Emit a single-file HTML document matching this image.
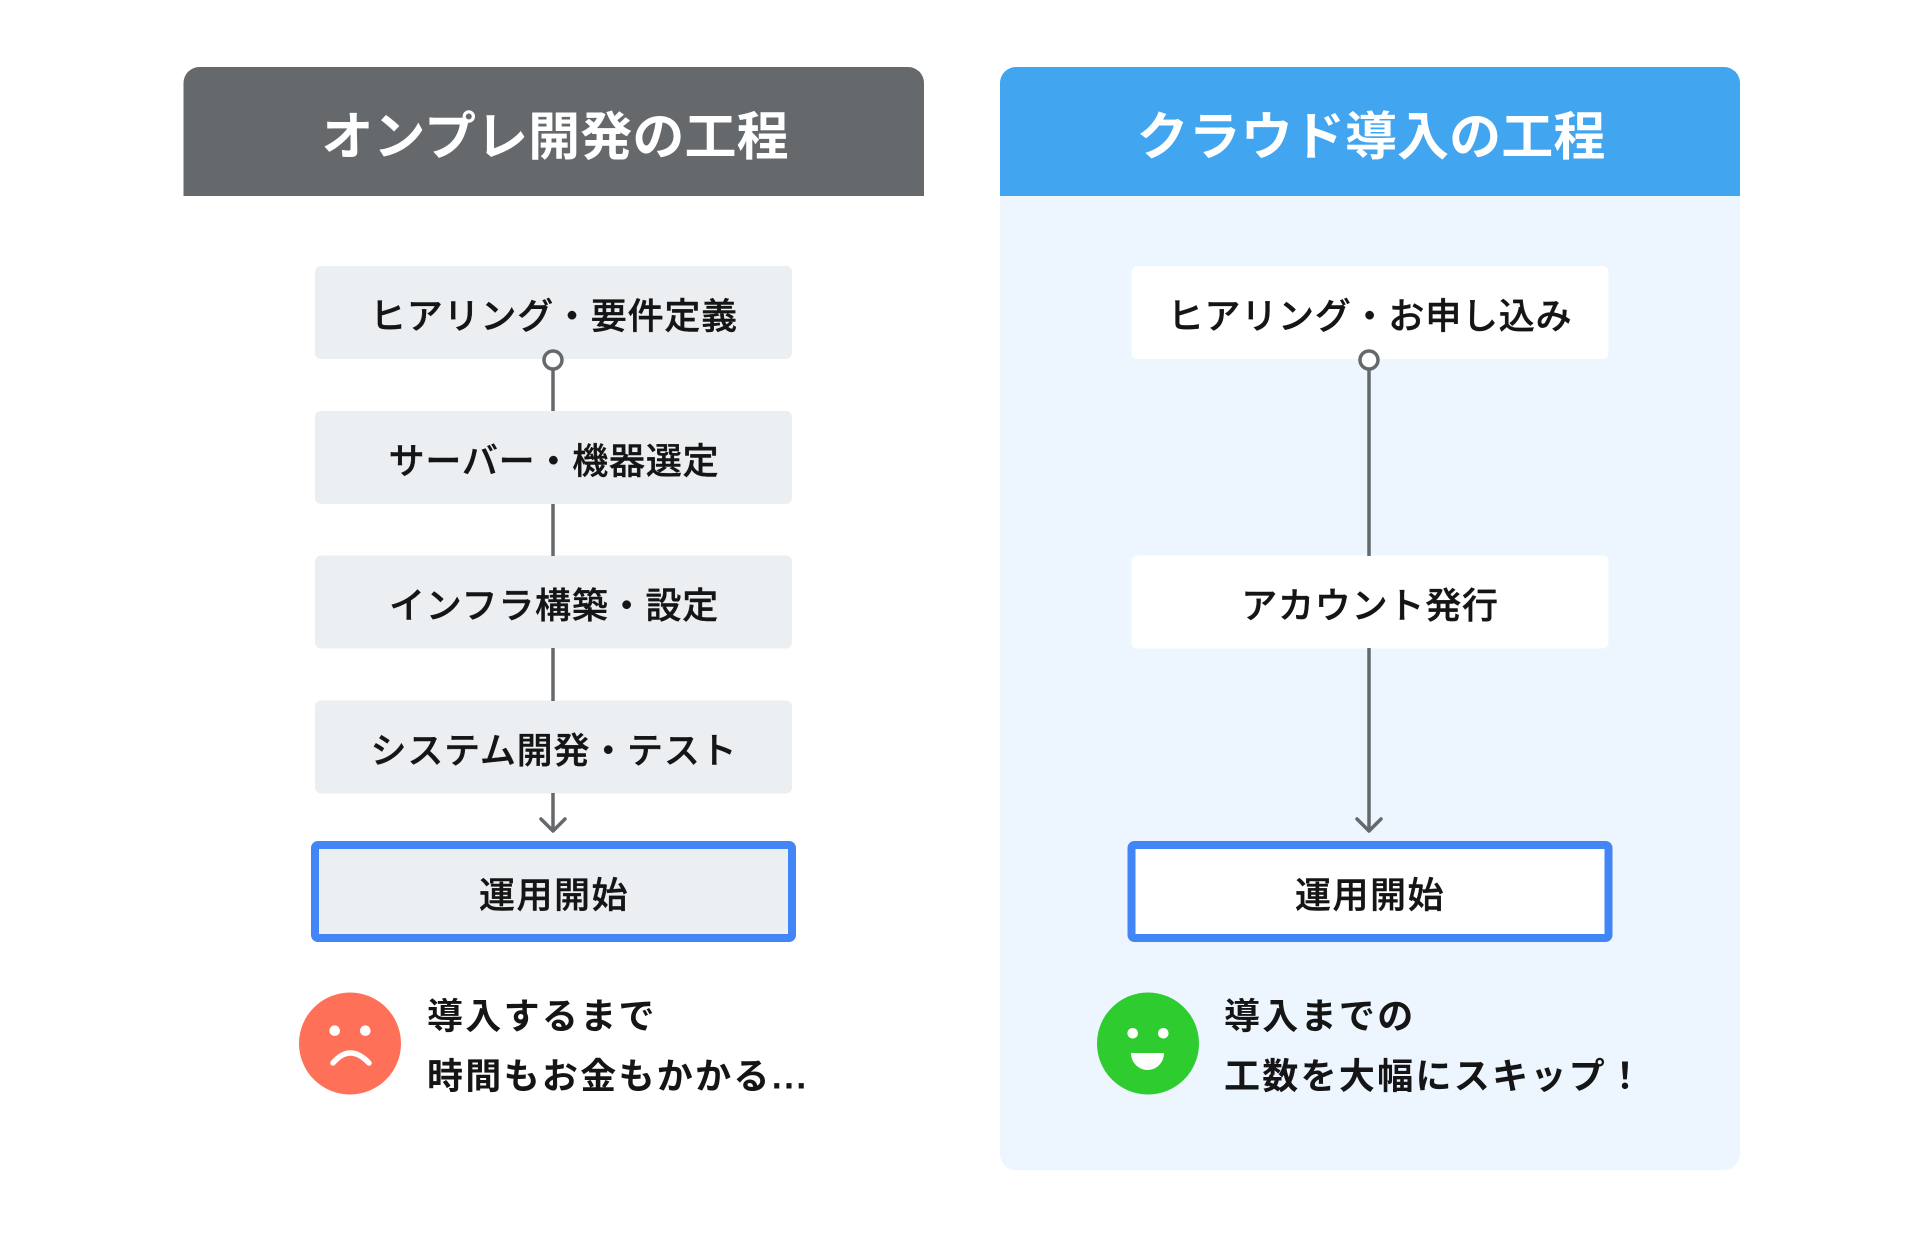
<!DOCTYPE html>
<html lang="ja">
<head>
<meta charset="utf-8">
<style>
html,body{margin:0;padding:0;background:#fff;width:1924px;height:1236px;overflow:hidden}
svg{display:block}
text{font-family:"Liberation Sans","Noto Sans CJK JP",sans-serif}
.t{font-size:52px;font-weight:700;fill:#fff;text-anchor:middle;letter-spacing:.1px}
.n{font-size:36px;font-weight:500;fill:#151515;stroke:#151515;stroke-width:.4px;text-anchor:middle;letter-spacing:.8px}
.s{letter-spacing:1.5px}
.b{font-size:36px;font-weight:700;fill:#151515;letter-spacing:2.3px}
.l{stroke:#65696c;stroke-width:3.5;fill:none}
.h{stroke:#65696c;stroke-width:3.5;fill:none;stroke-linecap:round;stroke-linejoin:round}
</style>
</head>
<body>
<svg width="1924" height="1236" viewBox="0 0 1924 1236" xmlns="http://www.w3.org/2000/svg">
<rect width="1924" height="1236" fill="#fff"/>

<!-- Left panel -->
<path d="M183.5 196V83a16 16 0 0 1 16-16H908a16 16 0 0 1 16 16V196Z" fill="#65696c"/>
<text class="t" x="555" y="155">オンプレ開発の工程</text>

<rect x="315" y="266" width="477" height="93" rx="6" fill="#ecEff2"/>
<rect x="315" y="411" width="477" height="93" rx="6" fill="#ecEff2"/>
<rect x="315" y="555.5" width="477" height="93" rx="6" fill="#ecEff2"/>
<rect x="315" y="700.5" width="477" height="93" rx="6" fill="#ecEff2"/>
<rect x="315" y="845" width="477" height="93" rx="3" fill="#ecEff2" stroke="#4285f6" stroke-width="8"/>

<line class="l" x1="553" y1="370" x2="553" y2="411"/>
<circle cx="553" cy="360" r="9" fill="#fff" stroke="#65696c" stroke-width="3.5"/>
<line class="l" x1="553" y1="504" x2="553" y2="556"/>
<line class="l" x1="553" y1="648" x2="553" y2="701"/>
<line class="l" x1="553" y1="793" x2="553" y2="830"/>
<path class="h" d="M541 819L553 831L565 819"/>

<text class="n" x="554" y="328.5">ヒアリング・要件定義</text>
<text class="n" x="554" y="473.5">サーバー・機器選定</text>
<text class="n" x="554" y="618">インフラ構築・設定</text>
<text class="n" x="554" y="763">システム開発・テスト</text>
<text class="n s" x="554" y="907.5">運用開始</text>

<circle cx="350" cy="1043.5" r="51" fill="#ff7058"/>
<circle cx="334.7" cy="1030.7" r="5.3" fill="#fff"/>
<circle cx="365.3" cy="1030.7" r="5.3" fill="#fff"/>
<path d="M333 1063Q350 1043 369 1063" fill="none" stroke="#fff" stroke-width="5.5" stroke-linecap="round"/>

<text class="b" x="427" y="1028.5">導入するまで</text>
<text class="b" x="427" y="1088.5">時間もお金もかかる...</text>

<!-- Right panel -->
<path d="M1000 196V83a16 16 0 0 1 16-16H1724a16 16 0 0 1 16 16V196Z" fill="#42a5ef"/>
<path d="M1000 196H1740V1154a16 16 0 0 1-16 16H1016a16 16 0 0 1-16-16Z" fill="#edf5ff"/>
<text class="t" x="1371" y="155">クラウド導入の工程</text>

<rect x="1131.5" y="266" width="477" height="93" rx="6" fill="#fff"/>
<rect x="1131.5" y="555.5" width="477" height="93" rx="6" fill="#fff"/>
<rect x="1131.5" y="845" width="477" height="93" rx="3" fill="#fff" stroke="#4285f6" stroke-width="8"/>

<line class="l" x1="1369" y1="370" x2="1369" y2="556"/>
<circle cx="1369" cy="360" r="9" fill="#fff" stroke="#65696c" stroke-width="3.5"/>
<line class="l" x1="1369" y1="648" x2="1369" y2="830"/>
<path class="h" d="M1357 819L1369 831L1381 819"/>

<text class="n" x="1370" y="328.5">ヒアリング・お申し込み</text>
<text class="n" x="1370" y="618">アカウント発行</text>
<text class="n s" x="1370" y="907.5">運用開始</text>

<circle cx="1148" cy="1043.5" r="51" fill="#2ecc2e"/>
<circle cx="1132.7" cy="1033.3" r="5.3" fill="#fff"/>
<circle cx="1163.3" cy="1033.3" r="5.3" fill="#fff"/>
<path d="M1131 1053H1164C1164 1063 1156 1070 1147.5 1070C1139 1070 1131 1063 1131 1053Z" fill="#fff"/>

<text class="b" x="1224" y="1028.5">導入までの</text>
<text class="b" x="1224" y="1088.5">工数を大幅にスキップ！</text>
</svg>
</body>
</html>
